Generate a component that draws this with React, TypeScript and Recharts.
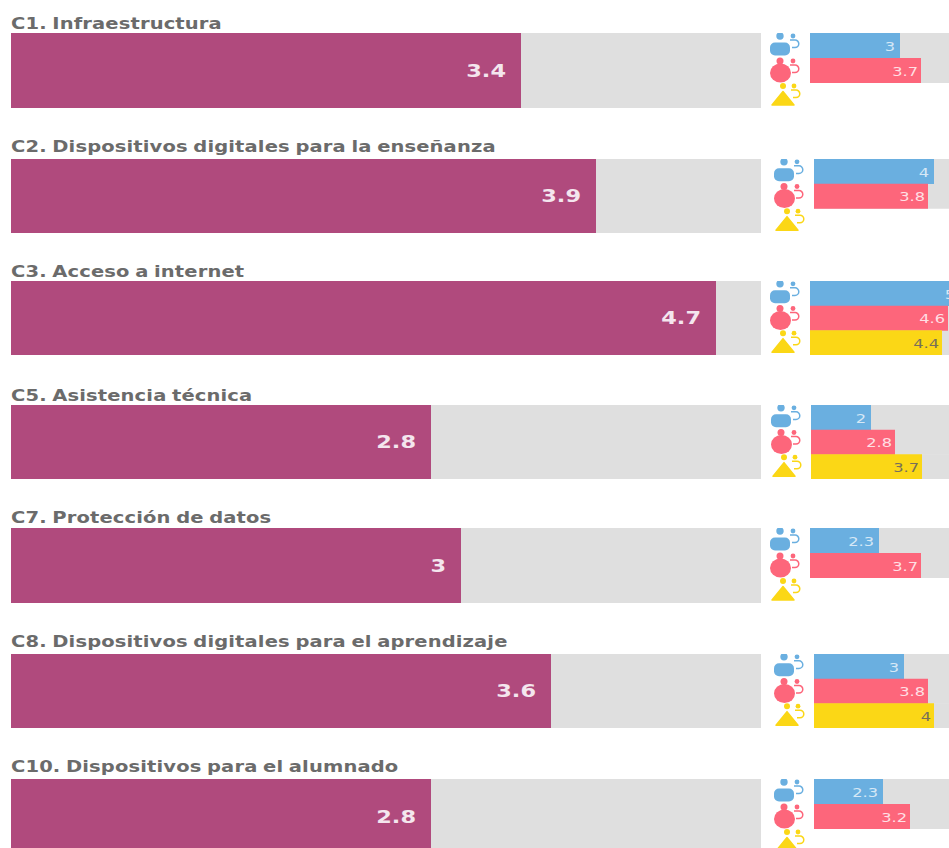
import { BarChart, Bar, Cell, XAxis, YAxis, LabelList } from "recharts";

const titles = [
  "C1. Infraestructura",
  "C2. Dispositivos digitales para la enseñanza",
  "C3. Acceso a internet",
  "C5. Asistencia técnica",
  "C7. Protección de datos",
  "C8. Dispositivos digitales para el aprendizaje",
  "C10. Dispositivos para el alumnado",
];
const overall = [3.4, 3.9, 4.7, 2.8, 3, 3.6, 2.8];
const leaders = [3, 4, 5, 2, 2.3, 3, 2.3];
const teachers = [3.7, 3.8, 4.6, 2.8, 3.7, 3.8, 3.2];
const students = [null, null, 4.4, 3.7, null, 4, null];
const groups = ["leaders", "teachers", "students"];

// layout of the rows
const rowTops = [33, 159, 281, 405, 528, 654, 779];
const rowHeights = [75, 74, 74, 74, 75, 74, 75];
const titleCenters = [24, 147, 272, 396, 518, 642, 767];
const smallLefts = [770, 774, 770, 771, 770, 774, 774];

const PURPLE = "#b04a7d";
const TRACK = "#dfdfdf";
const groupColors = ["#6aafe0", "#fd667b", "#fbd716"];
const labelColors = ["#d6e8f6", "#ffdfe3", "#77705a"];
const labelInsets = [5, 3, 3];
const FONT = "'DejaVu Sans', sans-serif";

function Arc({ x, y, color }: { x: number; y: number; color: string }) {
  return (
    <g fill="none" stroke={color} strokeWidth={1.5}>
      <circle cx={x} cy={y - 6.5} r={2.4} fill={color} stroke="none" />
      <path d={`M${x - 3} ${y - 2.5} h5 a3.8 3.8 0 0 1 0 7.6 h-3`} />
    </g>
  );
}

function GroupIcon(props: any) {
  const { y, payload } = props;
  const color = groupColors[groups.indexOf(payload.value)];
  const cx = 10;
  if (payload.value === "leaders") {
    return (
      <g transform={`translate(0 ${y})`}>
        <circle cx={cx} cy={-9.5} r={3.7} fill={color} />
        <rect x={0} y={-3} width={20} height={13} rx={5} fill={color} />
        <Arc x={23} y={-3} color={color} />
      </g>
    );
  }
  if (payload.value === "teachers") {
    return (
      <g transform={`translate(0 ${y})`}>
        <circle cx={cx} cy={-9.5} r={3.5} fill={color} />
        <ellipse cx={cx + 0.5} cy={2.5} rx={10.5} ry={9.5} fill={color} />
        <Arc x={23} y={-3} color={color} />
      </g>
    );
  }
  return (
    <g transform={`translate(0 ${y})`}>
      <circle cx={cx + 3} cy={-9.5} r={3} fill={color} />
      <path d={`M2 9.5 L${cx + 3} -4 L24 9.5 Z`} fill={color} stroke={color} strokeLinejoin="round" strokeWidth={1.5} />
      <Arc x={24} y={-3} color={color} />
    </g>
  );
}

// the reference is stretched sideways, so the text is too
function MainLabel(props: any) {
  const { x, y, width, height, value } = props;
  return (
    <text transform={`translate(${x + width - 15} ${y + height / 2 + 6}) scale(1.32 1)`} textAnchor="end"
      fill="#f4e6ee" fontFamily={FONT} fontWeight={700} fontSize={17}>
      {value}
    </text>
  );
}

function SmallLabel(props: any) {
  const { x, y, width, height, value, index } = props;
  if (value === null || value === undefined) return null;
  return (
    <text transform={`translate(${x + width - labelInsets[index]} ${y + height / 2 + 5}) scale(1.25 1)`} textAnchor="end"
      fill={labelColors[index]} fontFamily={FONT} fontSize={13}>
      {value}
    </text>
  );
}

function Row({ i }: { i: number }) {
  const top = rowTops[i];
  const small = groups.map((g, k) => ({
    group: g,
    value: [leaders, teachers, students][k][i],
  }));
  return (
    <>
      <div style={{
        position: "absolute", left: 11, top: titleCenters[i] - 9, fontFamily: FONT, fontWeight: 700,
        fontSize: 15, lineHeight: "18px", color: "#6b6b6b", whiteSpace: "nowrap", wordSpacing: -1, letterSpacing: 0.1,
        transform: "scaleX(1.3)", transformOrigin: "left center",
      }}>
        {titles[i]}
      </div>
      <div style={{ position: "absolute", left: 11, top }}>
        <BarChart width={750} height={rowHeights[i]} layout="vertical" margin={{ top: 0, right: 0, bottom: 0, left: 0 }}
          data={[{ name: titles[i], value: overall[i] }]} barCategoryGap={0}>
          <XAxis type="number" domain={[0, 5]} hide />
          <YAxis type="category" dataKey="name" hide />
          <Bar dataKey="value" fill={PURPLE} background={{ fill: TRACK }} isAnimationActive={false}>
            <LabelList dataKey="value" content={MainLabel} />
          </Bar>
        </BarChart>
      </div>
      <div style={{ position: "absolute", left: smallLefts[i], top }}>
        <BarChart width={190} height={rowHeights[i]} layout="vertical" margin={{ top: 0, right: 0, bottom: 0, left: 0 }}
          data={small} barCategoryGap={0}>
          <XAxis type="number" domain={[0, 5]} hide />
          <YAxis type="category" dataKey="group" width={40} axisLine={false} tickLine={false} tick={GroupIcon} />
          <Bar dataKey="value" background={{ fill: TRACK }} isAnimationActive={false}>
            {small.map((d, k) => (
              <Cell key={d.group} fill={groupColors[k]} />
            ))}
            <LabelList dataKey="value" content={SmallLabel} />
          </Bar>
        </BarChart>
      </div>
    </>
  );
}

export default function App() {
  return (
    <div style={{ position: "absolute", left: 0, top: 0, width: 949, height: 848, overflow: "hidden", background: "#fff" }}>
      {titles.map((_, i) => (
        <Row key={i} i={i} />
      ))}
    </div>
  );
}
